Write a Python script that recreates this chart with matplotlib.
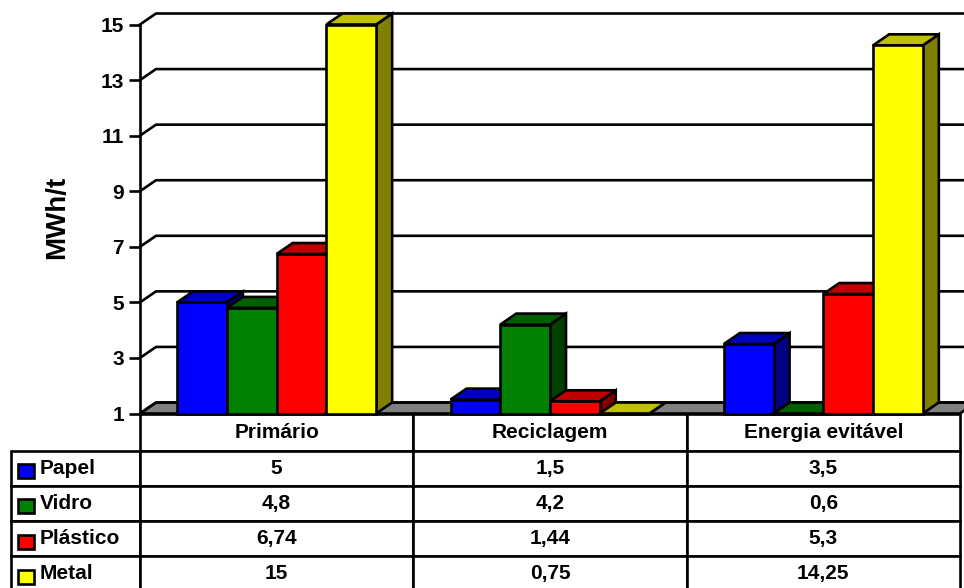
"""
Energy use per material: pseudo 3D bar chart with data table underneath.
"""

# 3rd party imports
import matplotlib

matplotlib.use("Agg")
import matplotlib.pyplot as plt
from matplotlib.patches import Polygon, Rectangle
from matplotlib.table import Table

# --------------------------------------------------
# DATA
# --------------------------------------------------
categories = ["Primário", "Reciclagem", "Energia evitável"]
series_names = ["Papel", "Vidro", "Plástico", "Metal"]
papel = [5, 1.5, 3.5]
vidro = [4.8, 4.2, 0.6]
plastico = [6.74, 1.44, 5.3]
metal = [15, 0.75, 14.25]
y_ticks = [1, 3, 5, 7, 9, 11, 13, 15]

# --------------------------------------------------
# STYLE
# --------------------------------------------------
FRONT_COLORS = ["#0000FF", "#008000", "#FF0000", "#FFFF00"]
TOP_COLORS = ["#0000C0", "#006000", "#C00000", "#C0C000"]
SIDE_COLORS = ["#000080", "#004000", "#800000", "#808000"]
FLOOR_COLOR = "#808080"
LW = 1.9
WIDTH_PX = 964
HEIGHT_PX = 588
BAR_WIDTH = 0.182
# depth of the fake 3D, in data units
DEPTH_X = 16 / 273.3
DEPTH_Y = 11 / 27.8


def fmt(value):
    return str(value).replace(".", ",")


if __name__ == "__main__":

    plt.rcParams["font.family"] = ["Liberation Sans", "DejaVu Sans"]
    plt.rcParams["font.weight"] = "bold"

    fig = plt.figure(figsize=(WIDTH_PX / 100, HEIGHT_PX / 100), dpi=100)
    ax = fig.add_axes(
        [140 / WIDTH_PX, 1 - 413.5 / HEIGHT_PX, 820 / WIDTH_PX, 389 / HEIGHT_PX]
    )
    ax.set_xlim(-0.5, 2.5)
    ax.set_ylim(1, 15)

    for side in ["top", "right", "bottom"]:
        ax.spines[side].set_visible(False)
    ax.spines["left"].set_linewidth(LW)
    ax.set_xticks([])
    ax.set_yticks(y_ticks)
    ax.tick_params(axis="y", length=8, width=LW, labelsize=15, pad=3.5)
    ax.set_ylabel("MWh/t", fontsize=20, fontweight="bold")
    ax.yaxis.set_label_coords(-0.0855, 0.503)

    # --------------------------------------------------
    # FLOOR AND BACK WALL LINES
    # --------------------------------------------------
    ax.add_patch(
        Polygon(
            [
                (-0.5, 1),
                (-0.5 + DEPTH_X, 1 + DEPTH_Y),
                (2.5 + DEPTH_X, 1 + DEPTH_Y),
                (2.5, 1),
            ],
            facecolor=FLOOR_COLOR,
            edgecolor="black",
            lw=LW,
            clip_on=False,
            zorder=1,
        )
    )
    for tick in y_ticks:
        ax.plot(
            [-0.5, -0.5 + DEPTH_X, 2.5 + DEPTH_X],
            [tick, tick + DEPTH_Y, tick + DEPTH_Y],
            color="black",
            lw=LW,
            clip_on=False,
            zorder=1,
        )

    # --------------------------------------------------
    # BARS
    # --------------------------------------------------
    all_series = [papel, vidro, plastico, metal]
    for cat_idx in range(len(categories)):
        for ser_idx, values in enumerate(all_series):
            # bars below the axis minimum are flattened on the floor
            top = max(values[cat_idx], 1)
            x0 = cat_idx + (ser_idx - 2) * BAR_WIDTH
            x1 = x0 + BAR_WIDTH
            faces = [
                (
                    [(x1, 1), (x1 + DEPTH_X, 1 + DEPTH_Y),
                     (x1 + DEPTH_X, top + DEPTH_Y), (x1, top)],
                    SIDE_COLORS[ser_idx],
                ),
                (
                    [(x0, top), (x0 + DEPTH_X, top + DEPTH_Y),
                     (x1 + DEPTH_X, top + DEPTH_Y), (x1, top)],
                    TOP_COLORS[ser_idx],
                ),
                (
                    [(x0, 1), (x0, top), (x1, top), (x1, 1)],
                    FRONT_COLORS[ser_idx],
                ),
            ]
            for points, color in faces:
                ax.add_patch(
                    Polygon(
                        points,
                        facecolor=color,
                        edgecolor="black",
                        lw=LW,
                        joinstyle="miter",
                        clip_on=False,
                        zorder=2,
                    )
                )

    # --------------------------------------------------
    # DATA TABLE
    # --------------------------------------------------
    # built by hand because ax.table forces the row label width.
    # the table bbox only counts the cells from column 0 on
    label_w = 129 / 820
    col_w = 1 / 3
    header_h = 37 / 389
    row_h = 35 / 389
    table = Table(ax, bbox=[0, -177.5 / 389, 1, 177 / 389])
    for col, name in enumerate(categories):
        table.add_cell(0, col, col_w, header_h, text=name, loc="center")
    for row, (name, values) in enumerate(zip(series_names, all_series), start=1):
        label = table.add_cell(row, -1, label_w, row_h, text=name, loc="left")
        label.PAD = 0.225
        for col, value in enumerate(values):
            table.add_cell(row, col, col_w, row_h, text=fmt(value), loc="center")
    table.auto_set_font_size(False)
    table.set_fontsize(15)
    for cell in table.get_celld().values():
        cell.set_linewidth(LW)
        cell.set_edgecolor("black")
    ax.add_table(table)

    # legend keys sit inside the row label cells
    key_centers = [471, 506, 541.5, 576.5]
    for ser_idx, key_y in enumerate(key_centers):
        ax.add_patch(
            Rectangle(
                ((18 - 140) / 820, (413.5 - key_y - 7) / 389),
                16 / 820,
                14 / 389,
                transform=ax.transAxes,
                facecolor=FRONT_COLORS[ser_idx],
                edgecolor="black",
                lw=LW,
                clip_on=False,
                zorder=12,
            )
        )

    fig.savefig("out.png", dpi=100)
